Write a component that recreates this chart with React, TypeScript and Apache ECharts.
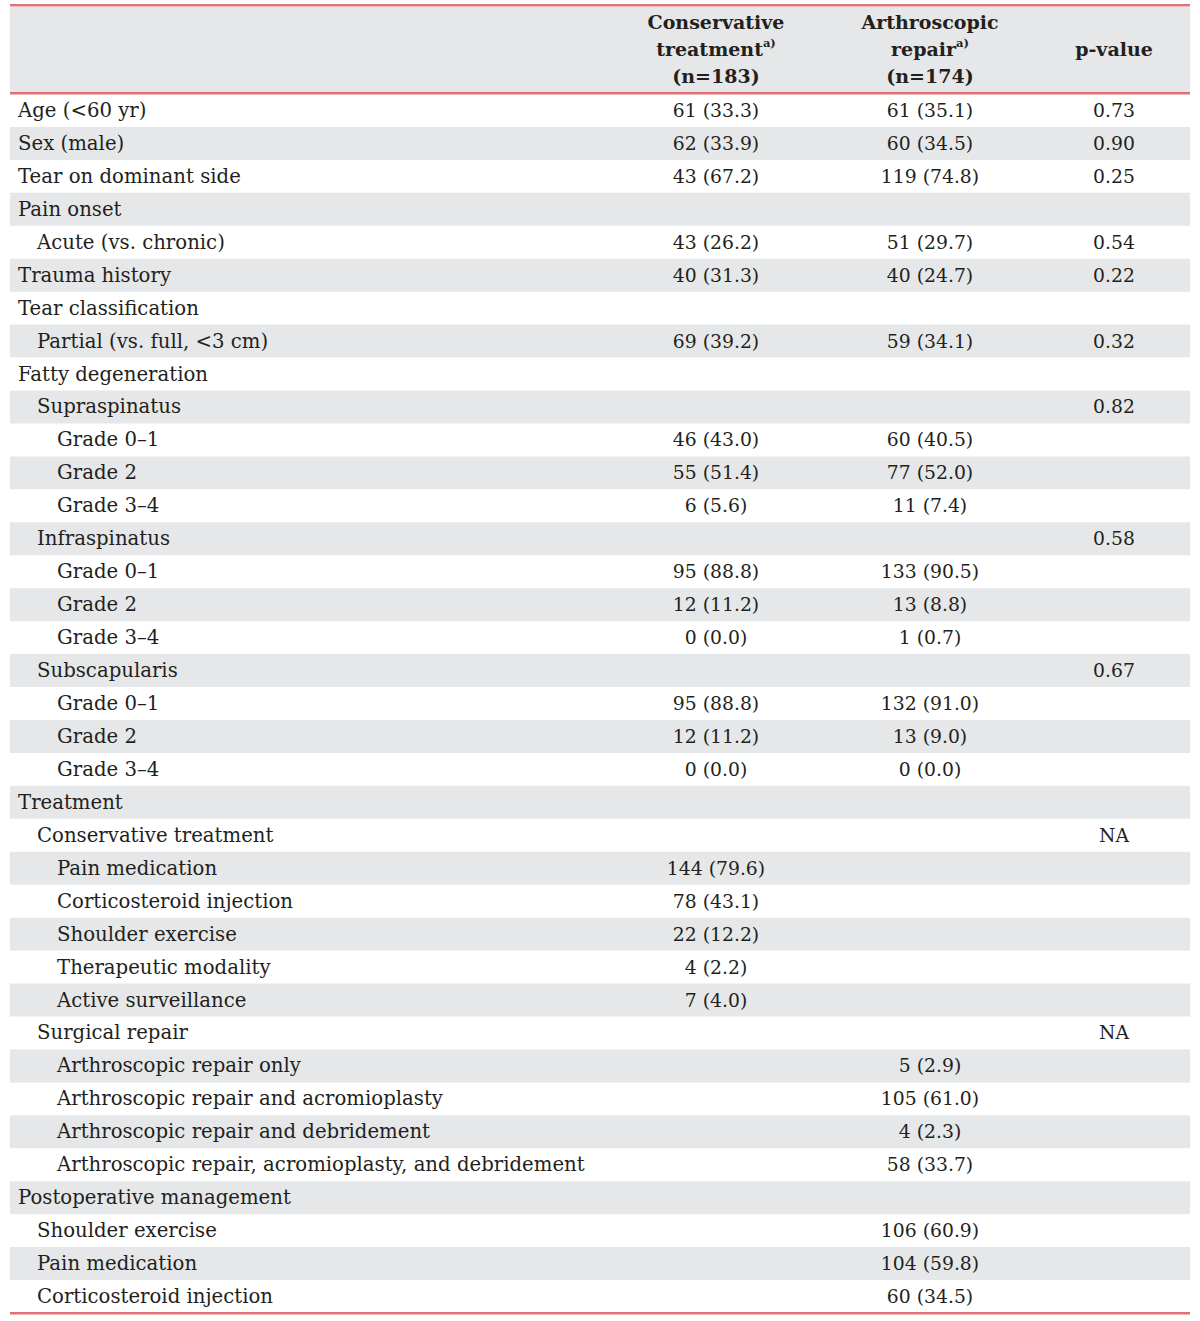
import React, { useEffect, useRef } from "react";
import * as echarts from "echarts";

// ---- Data ----
const rowLabels: string[] = [
  "Age (<60 yr)", "Sex (male)", "Tear on dominant side", "Pain onset", "Acute (vs. chronic)",
  "Trauma history", "Tear classification", "Partial (vs. full, <3 cm)", "Fatty degeneration",
  "Supraspinatus", "Grade 0–1", "Grade 2", "Grade 3–4",
  "Infraspinatus", "Grade 0–1", "Grade 2", "Grade 3–4",
  "Subscapularis", "Grade 0–1", "Grade 2", "Grade 3–4",
  "Treatment", "Conservative treatment", "Pain medication", "Corticosteroid injection",
  "Shoulder exercise", "Therapeutic modality", "Active surveillance", "Surgical repair",
  "Arthroscopic repair only", "Arthroscopic repair and acromioplasty",
  "Arthroscopic repair and debridement", "Arthroscopic repair, acromioplasty, and debridement",
  "Postoperative management", "Shoulder exercise", "Pain medication", "Corticosteroid injection",
];
const rowIndent: number[] = [
  0, 0, 0, 0, 1, 0, 0, 1, 0,
  1, 2, 2, 2,
  1, 2, 2, 2,
  1, 2, 2, 2,
  0, 1, 2, 2, 2, 2, 2, 1,
  2, 2, 2, 2,
  0, 1, 1, 1,
];
const consCount: (number | null)[] = [
  61, 62, 43, null, 43, 40, null, 69, null,
  null, 46, 55, 6,
  null, 95, 12, 0,
  null, 95, 12, 0,
  null, null, 144, 78, 22, 4, 7, null,
  null, null, null, null,
  null, null, null, null,
];
const consPct: (number | null)[] = [
  33.3, 33.9, 67.2, null, 26.2, 31.3, null, 39.2, null,
  null, 43.0, 51.4, 5.6,
  null, 88.8, 11.2, 0.0,
  null, 88.8, 11.2, 0.0,
  null, null, 79.6, 43.1, 12.2, 2.2, 4.0, null,
  null, null, null, null,
  null, null, null, null,
];
const arthCount: (number | null)[] = [
  61, 60, 119, null, 51, 40, null, 59, null,
  null, 60, 77, 11,
  null, 133, 13, 1,
  null, 132, 13, 0,
  null, null, null, null, null, null, null, null,
  5, 105, 4, 58,
  null, 106, 104, 60,
];
const arthPct: (number | null)[] = [
  35.1, 34.5, 74.8, null, 29.7, 24.7, null, 34.1, null,
  null, 40.5, 52.0, 7.4,
  null, 90.5, 8.8, 0.7,
  null, 91.0, 9.0, 0.0,
  null, null, null, null, null, null, null, null,
  2.9, 61.0, 2.3, 33.7,
  null, 60.9, 59.8, 34.5,
];
const pValues: string[] = [
  "0.73", "0.90", "0.25", "", "0.54", "0.22", "", "0.32", "",
  "0.82", "", "", "",
  "0.58", "", "", "",
  "0.67", "", "", "",
  "", "NA", "", "", "", "", "", "NA",
  "", "", "", "",
  "", "", "", "",
];
const headerCons: string[] = ["Conservative", "treatment{sup|a)}", "(n=183)"];
const headerArth: string[] = ["Arthroscopic", "repair{sup|a)}", "(n=174)"];
const headerP = "p-value";

// ---- Layout / style ----
const W = 1200;
const H = 1321;
const TABLE_L = 10;
const TABLE_R = 1190;
const HEAD_TOP = 5;
const HEAD_BOT = 93;
const BODY_BOT = 1313;
const X_CONS = 706;
const X_ARTH = 920;
const X_P = 1104;
const INDENT_X = [8, 27, 47];
const FONT = "'DejaVu Serif', 'Liberation Serif', serif";
const FS_LABEL = 19.7;
const FS_NUM = 18.8;
const TXT = "#231f20";
const GRAY = "#e6e7e8";
const RED = "#d9434d";
const PINK = "#f2b9bc";

function fmt(c: number | null, p: number | null): string {
  if (c === null || p === null) return "";
  return `${c} (${p.toFixed(1)})`;
}

export default function App() {
  const ref = useRef<HTMLDivElement>(null);
  useEffect(() => {
    if (!ref.current) return;
    const chart = echarts.init(ref.current, undefined, { renderer: "svg" });

    const headerLines = (lines: string[], cx: number) =>
      lines.map((t, i) => ({
        type: "text",
        x: cx,
        y: 22 + i * 27,
        style: {
          text: t,
          fontFamily: FONT,
          fontWeight: "bold",
          fontSize: 19,
          fill: TXT,
          align: "center",
          verticalAlign: "middle",
          rich: {
            sup: { fontSize: 11.5, fontWeight: "bold", fontFamily: FONT, fill: TXT, verticalAlign: "top", padding: [0, 0, 12, 0] },
          },
        },
      }));

    const option: any = {
      animation: false,
      grid: { left: TABLE_L, right: W - TABLE_R, top: HEAD_BOT + 1, bottom: H - BODY_BOT },
      xAxis: { type: "value", min: 0, max: TABLE_R - TABLE_L, show: false },
      yAxis: { type: "category", data: rowLabels, inverse: true, show: false },
      series: [
        {
          type: "custom",
          clip: false,
          data: rowLabels.map((_, i) => [0, i]),
          encode: { x: 0, y: 1 },
          renderItem: (params: any, api: any) => {
            const idx = api.value(1) as number;
            const [x0, cy] = api.coord([0, idx]);
            const x1 = api.coord([TABLE_R - TABLE_L, idx])[0];
            const h = api.size([0, 1])[1];
            const children: any[] = [];
            if (idx % 2 === 1) {
              children.push({
                type: "rect",
                shape: { x: x0, y: cy - h / 2, width: x1 - x0, height: h },
                style: { fill: GRAY },
              });
            }
            const mk = (text: string, xv: number, align: string, fs: number) => ({
              type: "text",
              x: api.coord([xv, idx])[0],
              y: cy,
              style: { text, fontFamily: FONT, fontSize: fs, fill: TXT, align, verticalAlign: "middle" },
            });
            children.push(mk(rowLabels[idx], INDENT_X[rowIndent[idx]], "left", FS_LABEL));
            const c = fmt(consCount[idx], consPct[idx]);
            if (c) children.push(mk(c, X_CONS, "center", FS_NUM));
            const a = fmt(arthCount[idx], arthPct[idx]);
            if (a) children.push(mk(a, X_ARTH, "center", FS_NUM));
            if (pValues[idx]) children.push(mk(pValues[idx], X_P, "center", FS_NUM));
            return { type: "group", children };
          },
        },
      ],
      graphic: [
        { type: "rect", shape: { x: TABLE_L, y: HEAD_TOP + 1, width: TABLE_R - TABLE_L, height: HEAD_BOT - HEAD_TOP - 1 }, style: { fill: GRAY }, z: 0 },
        { type: "line", shape: { x1: TABLE_L, y1: HEAD_TOP, x2: TABLE_R, y2: HEAD_TOP }, style: { stroke: RED, lineWidth: 1.6 } },
        { type: "line", shape: { x1: TABLE_L, y1: HEAD_TOP + 1.5, x2: TABLE_R, y2: HEAD_TOP + 1.5 }, style: { stroke: PINK, lineWidth: 1 } },
        { type: "line", shape: { x1: TABLE_L, y1: HEAD_BOT, x2: TABLE_R, y2: HEAD_BOT }, style: { stroke: RED, lineWidth: 1.6 } },
        { type: "line", shape: { x1: TABLE_L, y1: HEAD_BOT + 1.5, x2: TABLE_R, y2: HEAD_BOT + 1.5 }, style: { stroke: PINK, lineWidth: 1 } },
        { type: "line", shape: { x1: TABLE_L, y1: BODY_BOT, x2: TABLE_R, y2: BODY_BOT }, style: { stroke: RED, lineWidth: 1.6 } },
        { type: "line", shape: { x1: TABLE_L, y1: BODY_BOT + 1.5, x2: TABLE_R, y2: BODY_BOT + 1.5 }, style: { stroke: PINK, lineWidth: 1 } },
        ...headerLines(headerCons, TABLE_L + X_CONS),
        ...headerLines(headerArth, TABLE_L + X_ARTH),
        ...headerLines([headerP], TABLE_L + X_P).map((g: any) => ({ ...g, y: 49 })),
      ],
    };
    chart.setOption(option);
    return () => chart.dispose();
  }, []);
  return (
    <div
      ref={ref}
      style={{ position: "absolute", left: 0, top: 0, width: W, height: H, background: "#fff" }}
    />
  );
}
